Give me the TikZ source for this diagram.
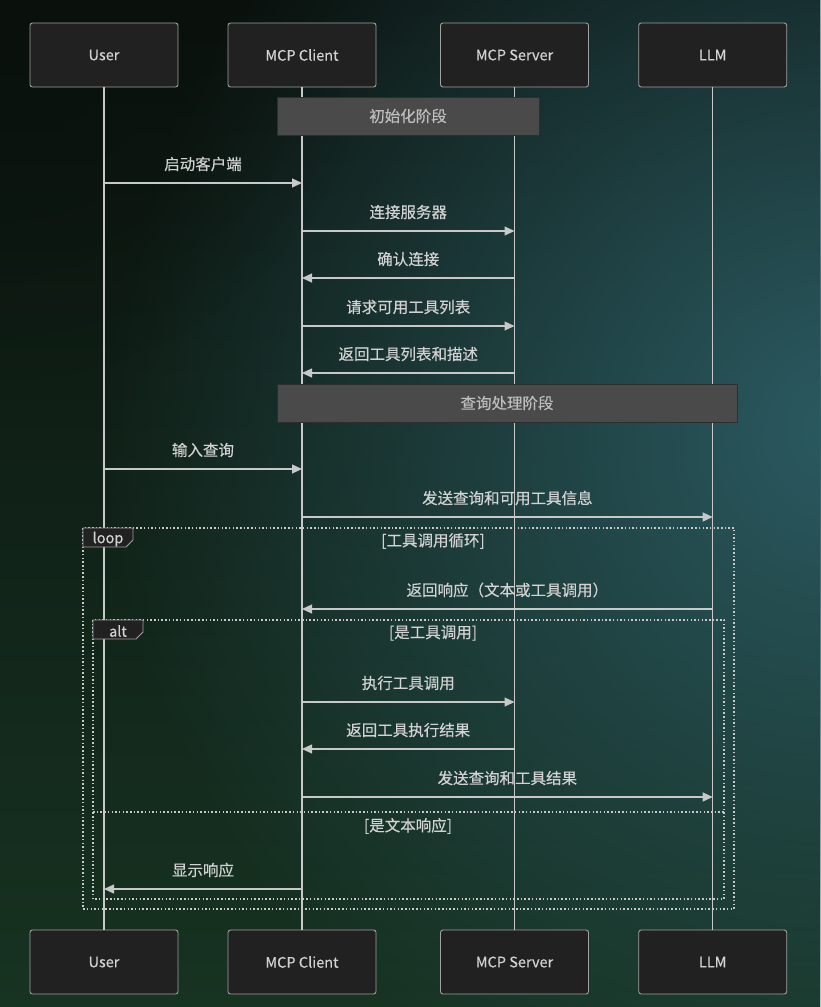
\documentclass[tikz,border=0pt]{standalone}
\usepackage{fontspec}
\setmainfont{Noto Sans CJK SC}[FakeBold=0.35]
\usetikzlibrary{arrows.meta,fadings,calc}
\definecolor{bgA}{HTML}{0A110D}
\definecolor{bgB}{HTML}{173322}
\definecolor{bgTeal}{HTML}{2B5A62}
\definecolor{actfill}{HTML}{212121}
\definecolor{actdraw}{HTML}{A0A0A0}
\definecolor{linec}{HTML}{C8C8C8}
\definecolor{txt}{HTML}{D2D2D2}
\definecolor{notefill}{HTML}{4A4A4A}
\definecolor{notedraw}{HTML}{2E2E2E}
\definecolor{notetxt}{HTML}{BEBEBE}
\tikzfading[name=radfade, inner color=transparent!0, outer color=transparent!100]
\tikzset{
  actor/.style={rectangle, rounded corners=2.5pt, draw=actdraw, line width=0.9pt, fill=actfill,
    minimum width=148pt, minimum height=64pt, text=txt, font=\fontsize{14.5}{16}\selectfont},
  lifeline/.style={draw=linec, line width=1.3pt},
  msg/.style={draw=linec, line width=1.3pt, -{Triangle[length=10pt,width=9pt]}},
  msglabel/.style={text=txt, font=\fontsize{15.5}{18}\selectfont, inner sep=0pt},
  notebox/.style={rectangle, fill=notefill, draw=notedraw, line width=0.8pt, text=notetxt,
    font=\fontsize{15.5}{18}\selectfont},
  frame/.style={draw=linec, line width=1.4pt, dash pattern=on 1.5pt off 2.2pt},
  framelabel/.style={text=txt, font=\fontsize{15.5}{18}\selectfont, inner sep=0pt},
  tab/.style={fill=actfill, draw=actdraw, line width=0.9pt},
}
\newcommand\mymsg[5]{%
  \path (#1) ++(0,#3) coordinate (#5s);
  \path (#2) ++(0,#3) coordinate (#5e);
  \draw[msg] (#5s) -- node[msglabel, midway, yshift=19pt]{#4} (#5e);
}
\begin{document}
\begin{tikzpicture}[x=1pt,y=-1pt]
\useasboundingbox (0,0) rectangle (820,1007);
% background
\shade[top color=bgA, bottom color=bgB] (0,0) rectangle (820,1007);
\fill[bgTeal, path fading=radfade, fill opacity=1] (840,430) circle (740);
\fill[bgA, path fading=radfade, fill opacity=0.8] (0,0) circle (380);

% actors
\node[actor] (Ut) at (104,55) {\raisebox{-1.5pt}{User}};
\node[actor] (Ct) at (302,55) {\raisebox{-1.5pt}{MCP Client}};
\node[actor] (St) at (514.5,55) {\raisebox{-1.5pt}{MCP Server}};
\node[actor] (Lt) at (712.7,55) {\raisebox{-1.5pt}{LLM}};
\node[actor] (Ub) at (104,962) {\raisebox{-1.5pt}{User}};
\node[actor] (Cb) at (302,962) {\raisebox{-1.5pt}{MCP Client}};
\node[actor] (Sb) at (514.5,962) {\raisebox{-1.5pt}{MCP Server}};
\node[actor] (Lb) at (712.7,962) {\raisebox{-1.5pt}{LLM}};

% lifelines
\draw[lifeline] (Ut) -- (Ub);
\draw[lifeline] (Ct) -- (Cb);
\draw[lifeline] (St) -- (Sb);
\draw[lifeline] (Lt) -- (Lb);

\coordinate (U) at (104,0);
\coordinate (C) at (302,0);
\coordinate (S) at (514.5,0);
\coordinate (L) at (712.7,0);

% notes
\node[notebox, minimum width=262pt, minimum height=38pt] (n1) at (408,116) {初始化阶段};
\node[notebox, minimum width=460pt, minimum height=38pt] (n2) at (507,403) {查询处理阶段};

% messages
\mymsg{U}{C}{183}{启动客户端}{m1}
\mymsg{C}{S}{231}{连接服务器}{m2}
\mymsg{S}{C}{278}{确认连接}{m3}
\mymsg{C}{S}{326}{请求可用工具列表}{m4}
\mymsg{S}{C}{373}{返回工具列表和描述}{m5}
\mymsg{U}{C}{469}{输入查询}{m6}
\mymsg{C}{L}{517}{发送查询和可用工具信息}{m7}
\mymsg{L}{C}{609}{返回响应（文本或工具调用）}{m8}
\mymsg{C}{S}{702}{执行工具调用}{m9}
\mymsg{S}{C}{749}{返回工具执行结果}{m10}
\mymsg{C}{L}{797}{发送查询和工具结果}{m11}
\mymsg{C}{U}{889}{显示响应}{m12}

% loop frame
\draw[frame] (83,528) rectangle (734,909);
\draw[tab] (83,528) -- (133,528) -- (133,540) -- (126,547) -- (83,547) -- cycle;
\node[framelabel, font=\fontsize{14.5}{16}\selectfont] (loopl) at (108,539) {loop};
\node[framelabel] (loopc) at (433,541) {[工具调用循环]};

% alt frame
\draw[frame] (93,620) rectangle (724,899);
\draw[tab] (93,620) -- (143,620) -- (143,632) -- (136,639) -- (93,639) -- cycle;
\node[framelabel, font=\fontsize{14.5}{16}\selectfont] (altl) at (118,631) {alt};
\node[framelabel] (altc) at (433,633) {[是工具调用]};
\draw[frame] (93,812) -- (724,812);
\node[framelabel] (elsec) at (408,826) {[是文本响应]};
\end{tikzpicture}
\end{document}
